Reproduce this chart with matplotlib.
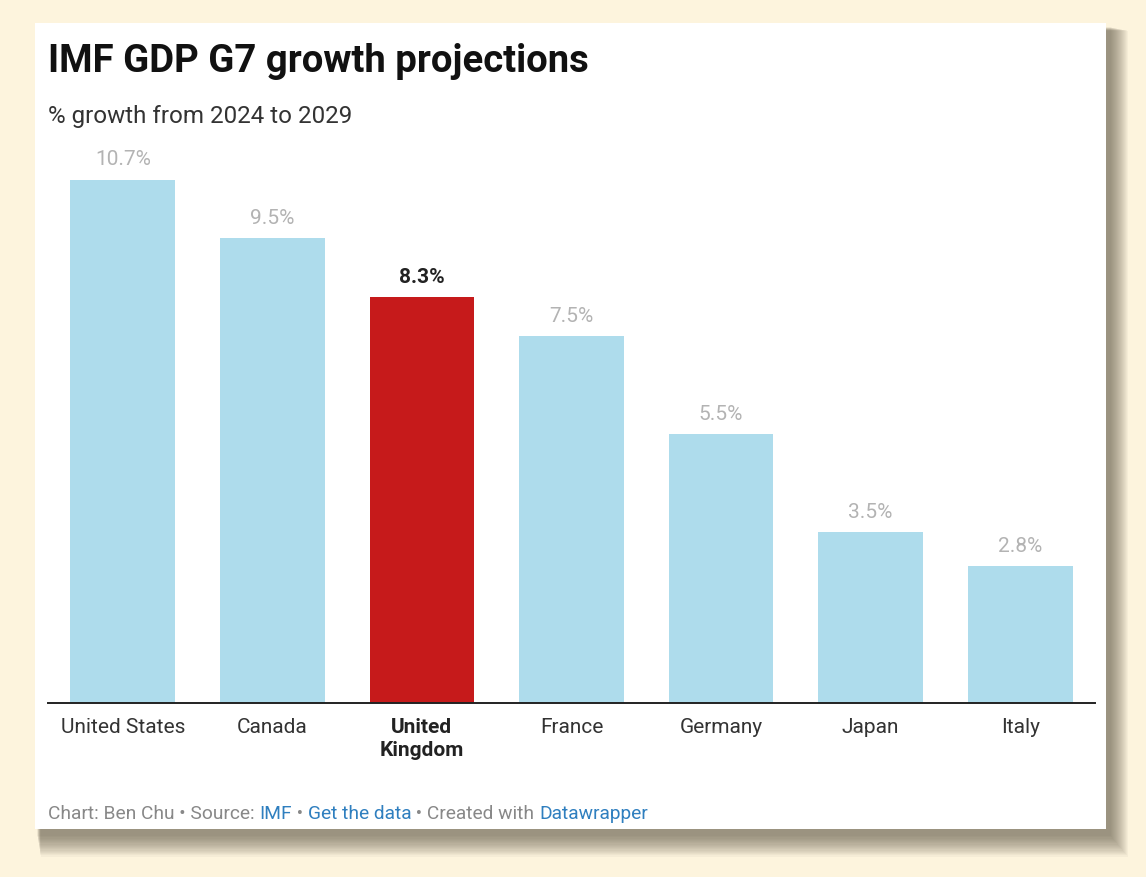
import matplotlib
import matplotlib.pyplot as plt
from matplotlib.patches import Rectangle

matplotlib.use('Agg')
plt.rcParams['font.family'] = ['Roboto', 'DejaVu Sans']

# data
countries = ["United States", "Canada", "United\nKingdom", "France", "Germany", "Japan", "Italy"]
growth = [10.7, 9.5, 8.3, 7.5, 5.5, 3.5, 2.8]
highlight = "United\nKingdom"

blue = "#aedcec"
red = "#c61a1b"
cream = "#fdf4dd"

W, H = 1146, 878
fig = plt.figure(figsize=(W / 100, H / 100), dpi=100)
fig.patch.set_facecolor(cream)

def px(x0, y0, x1, y1):
    # pixel box (top-left origin) -> figure fraction rect
    return (x0 / W, 1 - y1 / H, (x1 - x0) / W, (y1 - y0) / H)

# soft shadow behind the white card, built from stacked translucent boxes
card = (35, 24, 1106, 830)
n = 18
for i in range(n):
    g = n - i  # bigger boxes first
    l, b, w, h = px(card[0] + 2 + g * 0.2, card[1] + 4 + g * 0.2,
                    card[2] + 4 + g * 1.0, card[3] + 6 + g * 1.2)
    fig.patches.append(Rectangle((l, b), w, h, transform=fig.transFigure,
                                 facecolor="#55503f", edgecolor="none",
                                 alpha=0.045, zorder=0))
l, b, w, h = px(*card)
fig.patches.append(Rectangle((l, b), w, h, transform=fig.transFigure,
                             facecolor="white", edgecolor="none", zorder=1))

# titles
fig.text(48 / W, 1 - 61 / H, "IMF GDP G7 growth projections", fontsize=27.5,
         fontweight="bold", color="#111111", va="center", ha="left")
fig.text(48 / W, 1 - 116 / H, "% growth from 2024 to 2029", fontsize=17.4,
         color="#333333", va="center", ha="left")

# bars
ax = fig.add_axes(px(48, 117, 1095, 704))
ax.set_facecolor("none")
ax.set_zorder(2)
x = list(range(len(countries)))
colors = [red if c == highlight else blue for c in countries]
ax.bar(x, growth, width=0.7, color=colors)
ax.set_xlim(-0.5, 6.5)
ax.set_ylim(0, 12)

for xi, c, v in zip(x, countries, growth):
    is_hl = c == highlight
    ax.annotate(f"{v}%", (xi, v), xytext=(0, 8), textcoords="offset points",
                ha="center", va="bottom", fontsize=15,
                color="#222222" if is_hl else "#b3b3b3",
                fontweight="bold" if is_hl else "normal")

ax.set_xticks(x)
ax.set_xticklabels(countries, fontsize=15, color="#333333", linespacing=1.3)
for lab, c in zip(ax.get_xticklabels(), countries):
    if c == highlight:
        lab.set_fontweight("bold")
        lab.set_color("#222222")
ax.tick_params(axis="x", length=0, pad=10)
ax.set_yticks([])
for s in ["top", "right", "left"]:
    ax.spines[s].set_visible(False)
ax.spines["bottom"].set_color("#222222")
ax.spines["bottom"].set_linewidth(1.4)

# footer with mixed colours
grey = "#888888"
link = "#2f7fbf"
parts = [("Chart: Ben Chu • Source: ", grey), ("IMF", link), (" • ", grey),
         ("Get the data", link), (" • Created with ", grey), ("Datawrapper", link)]
prev = fig.text(48 / W, 1 - 814 / H, parts[0][0], fontsize=13.8, color=parts[0][1],
                va="center", ha="left", zorder=3)
for txt, col in parts[1:]:
    prev = plt.annotate(txt, xy=(1, 0), xycoords=prev, xytext=(0, 0),
                        textcoords="offset points", va="bottom", ha="left",
                        fontsize=13.8, color=col, annotation_clip=False)

fig.savefig("out.png", dpi=100, facecolor=cream)
